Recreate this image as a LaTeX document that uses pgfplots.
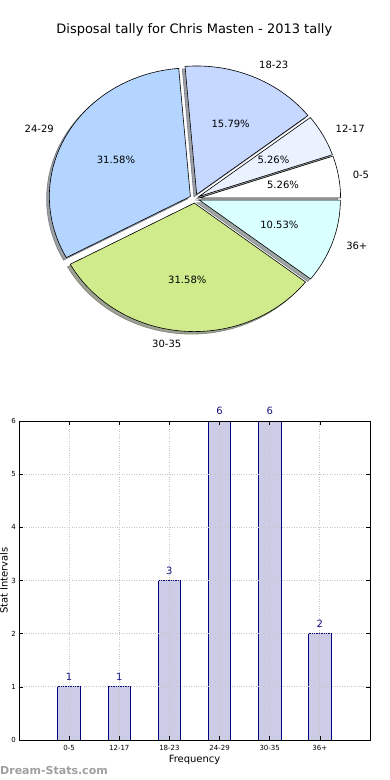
\documentclass[border=0pt]{standalone}
\usepackage{fontspec}
\setmainfont{DejaVu Sans}
\usepackage{pgfplots}
\pgfplotsset{compat=1.18}
\definecolor{c05}{HTML}{FFFFFF}
\definecolor{c1217}{HTML}{EAF1FF}
\definecolor{c1823}{HTML}{C6D8FF}
\definecolor{c2429}{HTML}{B4D5FF}
\definecolor{c3035}{HTML}{D0EB8B}
\definecolor{c36}{HTML}{D9FFFF}
\definecolor{barfill}{HTML}{CCCCE6}
\definecolor{navyc}{HTML}{000080}
\definecolor{lblc}{HTML}{141480}
\newcommand{\fs}[1]{\fontsize{#1bp}{#1bp}\selectfont}
% wedge: #1 colour, #2 tip x, #3 tip y, #4 start x, #5 start y, #6 a0, #7 a1
\newcommand{\piewedge}[7]{%
  \path[fill=#1, draw=black, line width=0.6bp] (axis cs:#2,#3) -- (axis cs:#4,#5)
    arc[start angle=#6, end angle=#7, x radius=141bp, y radius=128.5bp] -- cycle;}
\newcommand{\pieshadow}[7]{%
  \path[fill=#1!30!black, draw=#1!30!black, line width=0.6bp, opacity=0.5,
        shift={(-2.82bp,-2.57bp)}] (axis cs:#2,#3) -- (axis cs:#4,#5)
    arc[start angle=#6, end angle=#7, x radius=141bp, y radius=128.5bp] -- cycle;}
\begin{document}
\begin{tikzpicture}
\useasboundingbox (0,0) rectangle (390bp,780bp);
\node[font=\fs{13}] at (194.3bp,750.5bp) {Disposal tally for Chris Masten - 2013 tally};
% ---------- pie (values 1,1,3,6,6,2 of 19) ----------
\begin{axis}[at={(11.4bp,414.35bp)}, anchor=south west, scale only axis,
  width=366.6bp, height=334.1bp, xmin=-1.3, xmax=1.3, ymin=-1.3, ymax=1.3,
  hide axis, clip=false]
\pieshadow{c05}{0.03452}{0.00576}{1.03452}{0.00576}{0}{18.947}
\pieshadow{c1217}{0.03078}{0.01666}{0.97660}{0.34136}{18.947}{37.895}
\pieshadow{c1823}{0.01406}{0.03205}{0.80320}{0.64626}{37.895}{94.737}
\pieshadow{c2429}{-0.03078}{0.01666}{-0.11336}{1.01324}{94.737}{208.421}
\pieshadow{c3035}{-0.00289}{-0.03488}{-0.88236}{-0.51083}{208.421}{322.105}
\pieshadow{c36}{0.03310}{-0.01136}{0.82224}{-0.62557}{322.105}{360}
\piewedge{c05}{0.03452}{0.00576}{1.03452}{0.00576}{0}{18.947}
\piewedge{c1217}{0.03078}{0.01666}{0.97660}{0.34136}{18.947}{37.895}
\piewedge{c1823}{0.01406}{0.03205}{0.80320}{0.64626}{37.895}{94.737}
\piewedge{c2429}{-0.03078}{0.01666}{-0.11336}{1.01324}{94.737}{208.421}
\piewedge{c3035}{-0.00289}{-0.03488}{-0.88236}{-0.51083}{208.421}{322.105}
\piewedge{c36}{0.03310}{-0.01136}{0.82224}{-0.62557}{322.105}{360}
\begin{scope}[font=\fs{10}, inner sep=0pt]
\node[anchor=west] at (axis cs:1.1195,0.1868) {0-5};
\node[anchor=west] at (axis cs:0.9982,0.5402) {12-17};
\node[anchor=west] at (axis cs:0.4559,1.0394) {18-23};
\node[anchor=east] at (axis cs:-0.9982,0.5402) {24-29};
\node[anchor=east] at (axis cs:-0.0937,-1.1311) {30-35};
\node[anchor=west] at (axis cs:1.0735,-0.3685) {36+};
\node at (axis cs:0.6263,0.1045) {5.26\%};
\node at (axis cs:0.5585,0.3022) {5.26\%};
\node at (axis cs:0.2551,0.5815) {15.79\%};
\node at (axis cs:-0.5585,0.3022) {31.58\%};
\node at (axis cs:-0.0524,-0.6328) {31.58\%};
\node at (axis cs:0.6006,-0.2062) {10.53\%};
\end{scope}
\end{axis}
% ---------- bars ----------
\begin{axis}[at={(19bp,40bp)}, anchor=south west, scale only axis,
  width=351bp, height=319bp, xmin=-1, xmax=6, ymin=0, ymax=6,
  xtick={0,...,5}, xticklabels={0-5,12-17,18-23,24-29,30-35,36+},
  ytick={0,...,6},
  /pgf/number format/assume math mode=true,
  tick label style={font=\fs{7}, inner sep=0pt},
  xticklabel shift=5.5bp, yticklabel shift=3bp,
  grid=major, major grid style={gray!45, dotted, line width=0.8bp},
  tick align=inside, major tick length=4bp,
  tick style={black, line width=0.5bp},
  axis line style={black, line width=0.8bp},
  axis on top, clip=false,
  xlabel={Frequency}, ylabel={Stat Intervals},
  label style={font=\fs{10}},
  every axis x label/.style={at={(axis description cs:0.5,-0.0627)}, anchor=center},
  every axis y label/.style={at={(axis description cs:-0.0427,0.5)}, rotate=90, anchor=center},
]
\addplot[ybar, bar width=0.45, fill=barfill, draw=navyc, line width=0.8bp,
  nodes near coords,
  nodes near coords style={font=\fs{10}, text=lblc, anchor=south, inner sep=0pt, yshift=5.5bp}]
  coordinates {(0,1) (1,1) (2,3) (3,6) (4,6) (5,2)};
\end{axis}
\node[anchor=west, inner sep=0pt, text=gray!75, font=\bfseries\fs{11}] at (0bp,10bp) {Dream-Stats.com};
\end{tikzpicture}
\end{document}
